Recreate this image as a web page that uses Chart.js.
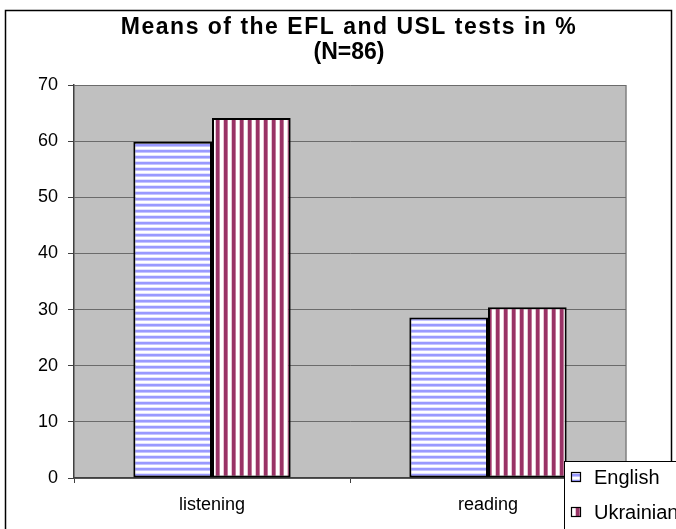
<!DOCTYPE html>
<html>
<head>
<meta charset="utf-8">
<script src="https://cdn.jsdelivr.net/npm/chart.js@4/dist/chart.umd.min.js"></script>
<style>
html,body{margin:0;padding:0;background:#fff;}
#wrap{position:relative;width:676px;height:529px;}
canvas{display:block;}
</style>
</head>
<body>
<div id="wrap"><canvas id="c" width="676" height="529"></canvas></div>
<script>
const categories = ["listening", "reading"];
const seriesNames = ["English", "Ukrainian"];
const englishValues = [59.9, 28.6];
const ukrainianValues = [64.1, 30.4];
const yTicks = [0, 10, 20, 30, 40, 50, 60, 70];
const titleLines = ["Means of the EFL and USL tests in %", "(N=86)"];

const FONT = "'Liberation Sans', Arial, sans-serif";

function makePattern(kind) {
  const p = document.createElement('canvas');
  const ctx = p.getContext('2d');
  if (kind === 'h') {
    p.width = 6; p.height = 6;
    const rows = ['#9999ff', '#9999ff', '#c4c4ff', '#ffffff', '#ffffff', '#e2e2ff'];
    rows.forEach((c, i) => { ctx.fillStyle = c; ctx.fillRect(0, i, 6, 1); });
  } else {
    p.width = 8; p.height = 8;
    const cols = ['#993366', '#993366', '#993366', '#c27a9c', '#ffffff', '#ffffff', '#ffffff', '#e6c6d4'];
    cols.forEach((c, i) => { ctx.fillStyle = c; ctx.fillRect(i, 0, 1, 8); });
  }
  return document.getElementById('c').getContext('2d').createPattern(p, 'repeat');
}
const patterns = [makePattern('h'), makePattern('v')];

const framePlugin = {
  id: 'frame',
  beforeDraw(chart) {
    const ctx = chart.ctx, a = chart.chartArea;
    ctx.save();
    ctx.fillStyle = '#ffffff';
    ctx.fillRect(0, 0, chart.width, chart.height);
    ctx.strokeStyle = '#000000';
    ctx.lineWidth = 1.5;
    ctx.strokeRect(5.5, 10.5, 666, 560);
    ctx.fillStyle = '#c0c0c0';
    ctx.fillRect(a.left, a.top, a.right - a.left, a.bottom - a.top);
    ctx.strokeStyle = '#808080';
    ctx.lineWidth = 1.5;
    ctx.beginPath();
    ctx.moveTo(a.right, a.top);
    ctx.lineTo(a.right, a.bottom);
    ctx.stroke();
    ctx.restore();
  },
  afterDraw(chart) {
    const ctx = chart.ctx, a = chart.chartArea;
    ctx.save();
    // title
    const cx = (a.left + a.right) / 2 - 1;
    ctx.fillStyle = '#000000';
    ctx.textAlign = 'center';
    ctx.textBaseline = 'middle';
    ctx.font = 'bold 23px ' + FONT;
    ctx.letterSpacing = '1.5px';
    ctx.fillText(titleLines[0], cx, 28);
    ctx.letterSpacing = '0px';
    ctx.font = 'bold 23px ' + FONT;
    ctx.fillText(titleLines[1], cx, 53);
    // legend
    ctx.fillStyle = '#ffffff';
    ctx.fillRect(564, 461, 200, 100);
    ctx.strokeStyle = '#000000';
    ctx.lineWidth = 1;
    ctx.strokeRect(564.5, 461.5, 200, 100);
    ctx.font = '20px ' + FONT;
    ctx.textBaseline = 'middle';
    ctx.textAlign = 'left';
    chart.data.datasets.forEach((ds, i) => {
      const cy = 477 + i * 35;
      ctx.fillStyle = ds.backgroundColor;
      ctx.fillRect(571, cy - 4, 9, 9);
      ctx.strokeStyle = '#000000';
      ctx.lineWidth = 1.2;
      ctx.strokeRect(571.5, cy - 4.5, 9, 9);
      ctx.fillStyle = '#000000';
      ctx.fillText(ds.label, 594, cy + 1);
    });
    ctx.restore();
  }
};

new Chart(document.getElementById('c'), {
  type: 'bar',
  data: {
    labels: categories,
    datasets: [
      { label: seriesNames[0], data: englishValues, backgroundColor: patterns[0],
        borderColor: '#000000', borderWidth: 2, borderSkipped: false },
      { label: seriesNames[1], data: ukrainianValues, backgroundColor: patterns[1],
        borderColor: '#000000', borderWidth: 2, borderSkipped: false }
    ]
  },
  options: {
    responsive: false,
    animation: false,
    devicePixelRatio: 1,
    layout: { padding: { left: 0, right: 50, top: 85, bottom: 0 } },
    datasets: { bar: { categoryPercentage: 0.57, barPercentage: 1.0 } },
    plugins: {
      legend: { display: false },
      tooltip: { enabled: false },
      title: { display: false }
    },
    scales: {
      x: {
        offset: true,
        grid: { display: true, drawOnChartArea: false, drawTicks: true, tickLength: 5,
                tickColor: '#404040', offset: true },
        border: { display: true, color: '#404040', width: 1.5 },
        ticks: { color: '#000000', font: { family: FONT, size: 18 }, padding: 11 },
        afterFit(scale) { scale.height = 51; }
      },
      y: {
        min: yTicks[0],
        max: yTicks[yTicks.length - 1],
        afterBuildTicks(scale) { scale.ticks = yTicks.map(v => ({ value: v })); },
        grid: { color: '#6b6b6b', lineWidth: 1, drawTicks: true, tickLength: 6, tickColor: '#404040' },
        border: { display: true, color: '#404040', width: 1.5 },
        ticks: { color: '#000000', font: { family: FONT, size: 18 }, padding: 10 },
        afterFit(scale) { scale.width = 74; }
      }
    }
  },
  plugins: [framePlugin]
});
</script>
</body>
</html>
